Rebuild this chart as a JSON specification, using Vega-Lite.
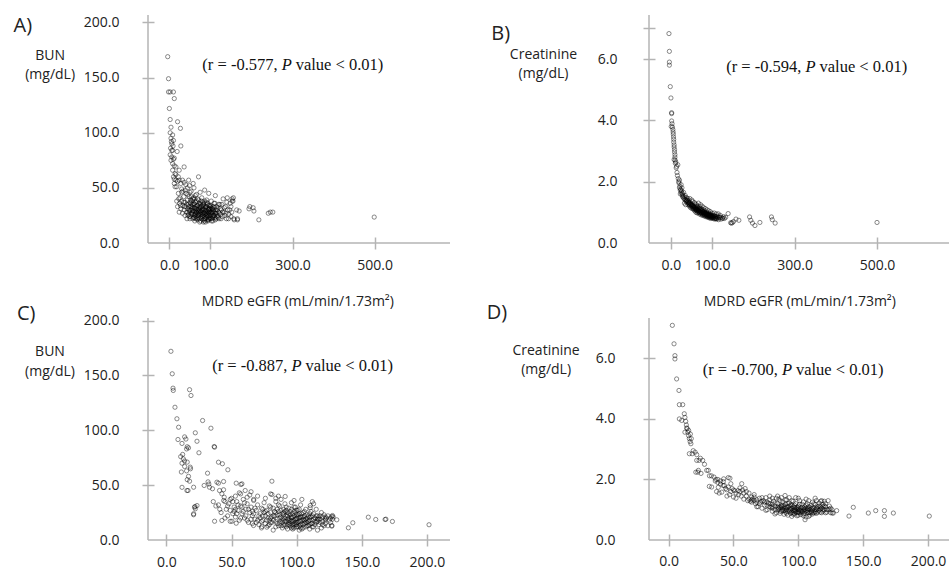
{
"$schema": "https://vega.github.io/schema/vega-lite/v6.json",
"background": "white",
"padding": {"left": 13, "top": 14, "right": 0, "bottom": 0},
"config": {
  "view": {"stroke": null},
  "font": "Open Sans",
  "axis": {"domain": false, "grid": false, "ticks": true, "tickColor": "#b4b4b4", "tickWidth": 1.5, "tickSize": 12, "offset": -6,
    "labelFont": "Open Sans", "labelFontSize": 14, "labelColor": "#222", "labelFlush": false, "labelOverlap": false, "labelBound": false,
    "titleFont": "Open Sans", "titleFontSize": 14, "titleFontWeight": "normal", "titleColor": "#222"},
  "point": {"shape": "circle", "filled": false, "size": 18, "strokeWidth": 1, "stroke": "#000", "strokeOpacity": 0.65},
  "rule": {"color": "#b4b4b4", "strokeWidth": 1.5},
  "text": {"font": "Liberation Serif", "fontSize": 16.5, "color": "#111", "baseline": "middle"}
},
"datasets": {
"A": [
{"x":-4,"y":169},{"x":-2,"y":149},{"x":-2,"y":137},{"x":2,"y":137},{"x":10,"y":137},{"x":12,"y":131},{"x":0,"y":122},{"x":2,"y":112},{"x":20,"y":110},{"x":4,"y":105},{"x":27,"y":104},{"x":2,"y":100},{"x":8,"y":98},{"x":4,"y":95},{"x":10,"y":93},{"x":6,"y":90},{"x":9,"y":88},{"x":28,"y":88},{"x":8,"y":84},{"x":19,"y":83},{"x":2,"y":80},{"x":6,"y":78},{"x":10,"y":76},{"x":4,"y":75},{"x":8,"y":72},{"x":12,"y":70},{"x":16,"y":69},{"x":36,"y":69},{"x":8,"y":66},{"x":24,"y":66},{"x":14,"y":63},{"x":10,"y":60},{"x":12,"y":58},{"x":16,"y":57},{"x":20,"y":56},{"x":24,"y":57},{"x":28,"y":54},{"x":47,"y":57},{"x":71,"y":60},{"x":36,"y":55},{"x":40,"y":53},{"x":12,"y":54},{"x":14,"y":51},{"x":18,"y":51},{"x":30,"y":49},{"x":6,"y":84},{"x":5,"y":92},{"x":12,"y":77},{"x":3,"y":86},{"x":16,"y":62},{"x":22,"y":60},
{"x":18,"y":38},{"x":20,"y":33},{"x":22,"y":45},{"x":24,"y":28},{"x":25,"y":36},{"x":26,"y":41},{"x":28,"y":31},{"x":30,"y":46},{"x":30,"y":38},{"x":32,"y":27},{"x":33,"y":34},{"x":35,"y":42},{"x":36,"y":30},{"x":38,"y":25},{"x":38,"y":37},{"x":40,"y":33},{"x":41,"y":45},{"x":42,"y":28},{"x":43,"y":22},{"x":44,"y":39},{"x":45,"y":31},{"x":46,"y":35},{"x":47,"y":26},{"x":48,"y":42},{"x":49,"y":29},{"x":50,"y":37},{"x":51,"y":24},{"x":52,"y":33},{"x":53,"y":47},{"x":54,"y":27},{"x":55,"y":38},{"x":56,"y":30},{"x":57,"y":22},{"x":58,"y":35},{"x":59,"y":41},{"x":60,"y":26},{"x":61,"y":32},{"x":62,"y":20},{"x":63,"y":29},{"x":64,"y":37},{"x":65,"y":24},{"x":66,"y":44},{"x":67,"y":31},{"x":68,"y":27},{"x":69,"y":21},{"x":70,"y":34},{"x":71,"y":39},{"x":72,"y":25},{"x":73,"y":30},{"x":74,"y":19},{"x":75,"y":36},{"x":76,"y":28},{"x":77,"y":23},{"x":78,"y":33},{"x":79,"y":41},{"x":80,"y":26},{"x":81,"y":30},{"x":82,"y":21},{"x":83,"y":35},{"x":84,"y":28},{"x":85,"y":24},{"x":86,"y":38},{"x":87,"y":31},{"x":88,"y":19},{"x":89,"y":27},{"x":90,"y":33},{"x":91,"y":23},{"x":92,"y":29},{"x":93,"y":36},{"x":94,"y":25},{"x":95,"y":21},{"x":96,"y":31},{"x":97,"y":27},{"x":98,"y":34},{"x":99,"y":22},{"x":100,"y":29},{"x":101,"y":25},{"x":102,"y":38},{"x":103,"y":20},{"x":104,"y":31},{"x":105,"y":27},{"x":106,"y":23},{"x":107,"y":33},{"x":108,"y":29},{"x":110,"y":25},{"x":111,"y":36},{"x":112,"y":21},{"x":113,"y":30},{"x":115,"y":27},{"x":116,"y":24},{"x":118,"y":32},{"x":120,"y":28},{"x":121,"y":22},{"x":123,"y":35},{"x":125,"y":26},{"x":127,"y":30},{"x":129,"y":24},{"x":131,"y":40},{"x":133,"y":28},{"x":135,"y":25},{"x":137,"y":33},{"x":139,"y":22},{"x":142,"y":30},{"x":145,"y":26},{"x":148,"y":36},{"x":150,"y":24},{"x":152,"y":28},{"x":155,"y":38},{"x":156,"y":41},{"x":157,"y":22},{"x":158,"y":21},{"x":164,"y":30},{"x":170,"y":29},{"x":112,"y":43},{"x":96,"y":45},{"x":86,"y":48},{"x":75,"y":46},{"x":60,"y":50},{"x":150,"y":33},{"x":140,"y":37},{"x":128,"y":35},{"x":44,"y":50},
{"x":42,"y":35},{"x":45,"y":25},{"x":48,"y":30},{"x":50,"y":22},{"x":52,"y":39},{"x":54,"y":31},{"x":56,"y":26},{"x":58,"y":29},{"x":60,"y":36},{"x":62,"y":31},{"x":64,"y":22},{"x":66,"y":28},{"x":68,"y":34},{"x":70,"y":23},{"x":72,"y":31},{"x":74,"y":27},{"x":76,"y":35},{"x":78,"y":24},{"x":80,"y":31},{"x":82,"y":27},{"x":84,"y":33},{"x":86,"y":22},{"x":88,"y":29},{"x":90,"y":25},{"x":92,"y":35},{"x":94,"y":20},{"x":96,"y":27},{"x":98,"y":23},{"x":100,"y":33},{"x":102,"y":27},{"x":104,"y":22},{"x":106,"y":30},{"x":108,"y":25},{"x":110,"y":32},{"x":112,"y":27},{"x":114,"y":22},{"x":116,"y":30},{"x":118,"y":25},{"x":120,"y":35},{"x":122,"y":27},{"x":124,"y":31},{"x":126,"y":22},{"x":130,"y":28},{"x":134,"y":32},{"x":138,"y":27},{"x":144,"y":22},{"x":147,"y":30},{"x":65,"y":33},{"x":75,"y":29},{"x":85,"y":30},{"x":95,"y":28},{"x":105,"y":24},{"x":115,"y":33},{"x":55,"y":33},{"x":45,"y":44},{"x":50,"y":46},{"x":57,"y":40},{"x":63,"y":43},{"x":69,"y":40},{"x":81,"y":37},{"x":91,"y":39},{"x":101,"y":34},{"x":83,"y":19},{"x":93,"y":21},{"x":79,"y":22},{"x":71,"y":26},{"x":61,"y":23},{"x":87,"y":26},{"x":97,"y":31},{"x":109,"y":36},{"x":119,"y":23},{"x":35,"y":37},{"x":37,"y":33},{"x":27,"y":34},{"x":23,"y":40},{"x":33,"y":47},{"x":39,"y":48},{"x":49,"y":52},{"x":58,"y":54},{"x":32,"y":57},
{"x":45,"y":28},{"x":47,"y":33},{"x":49,"y":24},{"x":51,"y":30},{"x":53,"y":26},{"x":55,"y":35},{"x":57,"y":28},{"x":59,"y":23},{"x":61,"y":35},{"x":63,"y":26},{"x":65,"y":31},{"x":67,"y":22},{"x":69,"y":30},{"x":71,"y":28},{"x":73,"y":22},{"x":75,"y":32},{"x":77,"y":26},{"x":79,"y":29},{"x":81,"y":24},{"x":83,"y":31},{"x":85,"y":27},{"x":87,"y":22},{"x":89,"y":32},{"x":91,"y":27},{"x":93,"y":24},{"x":95,"y":30},{"x":97,"y":25},{"x":99,"y":31},{"x":101,"y":22},{"x":103,"y":28},{"x":105,"y":31},{"x":107,"y":25},{"x":109,"y":28},{"x":111,"y":23},{"x":113,"y":27},{"x":72,"y":36},{"x":78,"y":38},{"x":84,"y":36},{"x":90,"y":37},{"x":96,"y":34},{"x":102,"y":32},{"x":66,"y":38},{"x":60,"y":40},{"x":54,"y":42},{"x":76,"y":20},{"x":86,"y":20},{"x":96,"y":22},{"x":106,"y":20},{"x":80,"y":34},{"x":70,"y":29},{"x":92,"y":26},{"x":98,"y":29},{"x":88,"y":33},{"x":82,"y":25},{"x":74,"y":33},{"x":64,"y":27},{"x":58,"y":32},{"x":52,"y":36},{"x":62,"y":25},{"x":68,"y":25},
{"x":141,"y":41},{"x":153,"y":40},{"x":153,"y":38},{"x":166,"y":22},{"x":166,"y":21},{"x":194,"y":31},{"x":196,"y":33},{"x":204,"y":32},{"x":206,"y":29},{"x":218,"y":21},{"x":241,"y":27},{"x":246,"y":28},{"x":252,"y":28},{"x":499,"y":23.5}
],
"B": [
{"x":-4.5,"y":6.83},{"x":-3.5,"y":6.25},{"x":-3.5,"y":5.9},{"x":-3.5,"y":5.8},{"x":-1.3,"y":5.1},{"x":0.3,"y":4.73},{"x":1.9,"y":4.25},{"x":2,"y":4.22},
{"x":2,"y":3.98},{"x":3,"y":3.89},{"x":1,"y":3.8},{"x":4,"y":3.78},{"x":5,"y":3.7},{"x":5.6,"y":3.62},{"x":6,"y":3.55},{"x":6.5,"y":3.46},{"x":7,"y":3.38},{"x":7,"y":3.29},{"x":8,"y":3.2},{"x":8,"y":3.13},{"x":9,"y":3.05},{"x":9,"y":2.97},{"x":10,"y":2.88},{"x":10,"y":2.8},{"x":10.5,"y":2.7},{"x":8,"y":2.72},{"x":12,"y":2.64},{"x":11,"y":2.6},
{"x":13,"y":2.45},{"x":15,"y":2.3},{"x":16,"y":2.2},{"x":18,"y":2.1},{"x":14,"y":2.5},{"x":17,"y":2.55},
{"x":20,"y":1.95},{"x":22,"y":1.85},{"x":24,"y":1.75},{"x":21,"y":2.05},{"x":26,"y":1.7},{"x":28,"y":1.62},{"x":25,"y":1.9},{"x":29,"y":1.55},{"x":23,"y":1.6},{"x":27,"y":1.8},
{"x":30,"y":1.5},{"x":32,"y":1.45},{"x":34,"y":1.42},{"x":31,"y":1.65},{"x":35,"y":1.55},{"x":37,"y":1.35},{"x":38,"y":1.48},{"x":33,"y":1.3},{"x":36,"y":1.25},{"x":39,"y":1.4},
{"x":40,"y":1.32},{"x":42,"y":1.25},{"x":44,"y":1.38},{"x":45,"y":1.2},{"x":47,"y":1.3},{"x":48,"y":1.15},{"x":50,"y":1.25},{"x":52,"y":1.12},{"x":53,"y":1.35},{"x":55,"y":1.1},{"x":56,"y":1.2},{"x":58,"y":1.05},{"x":59,"y":1.28},{"x":41,"y":1.45},{"x":46,"y":1.45},{"x":51,"y":1.4},{"x":57,"y":1.32},
{"x":60,"y":1.15},{"x":61,"y":1.0},{"x":62,"y":1.25},{"x":63,"y":1.1},{"x":64,"y":0.98},{"x":65,"y":1.2},{"x":66,"y":1.05},{"x":67,"y":1.3},{"x":68,"y":1.12},{"x":69,"y":0.95},{"x":70,"y":1.18},{"x":71,"y":1.02},{"x":72,"y":1.25},{"x":73,"y":0.92},{"x":74,"y":1.1},{"x":75,"y":1.0},{"x":76,"y":1.2},{"x":77,"y":0.9},{"x":78,"y":1.08},{"x":79,"y":0.98},{"x":80,"y":1.15},{"x":81,"y":0.88},{"x":82,"y":1.05},{"x":83,"y":0.95},{"x":84,"y":1.12},{"x":85,"y":0.86},{"x":86,"y":1.0},{"x":87,"y":0.92},{"x":88,"y":1.08},{"x":89,"y":0.84},{"x":90,"y":0.98},{"x":91,"y":0.9},{"x":92,"y":1.05},{"x":93,"y":0.82},{"x":94,"y":0.95},{"x":95,"y":0.88},{"x":96,"y":1.02},{"x":97,"y":0.8},{"x":98,"y":0.92},{"x":99,"y":0.85},{"x":100,"y":0.97},
{"x":102,"y":0.82},{"x":104,"y":0.9},{"x":106,"y":0.78},{"x":108,"y":0.86},{"x":110,"y":0.95},{"x":112,"y":0.8},{"x":114,"y":0.88},{"x":116,"y":0.76},{"x":118,"y":0.84},{"x":120,"y":0.9},{"x":122,"y":0.78},{"x":125,"y":0.82},{"x":128,"y":0.86},{"x":130,"y":0.8},{"x":133,"y":0.84},{"x":105,"y":0.98},{"x":115,"y":0.95},
{"x":34,"y":1.5},{"x":36,"y":1.4},{"x":38,"y":1.38},{"x":40,"y":1.4},{"x":43,"y":1.3},{"x":45,"y":1.32},{"x":47,"y":1.22},{"x":49,"y":1.25},{"x":51,"y":1.18},{"x":53,"y":1.22},{"x":55,"y":1.15},{"x":57,"y":1.18},{"x":59,"y":1.1},{"x":61,"y":1.12},{"x":63,"y":1.05},{"x":65,"y":1.08},{"x":67,"y":1.02},{"x":69,"y":1.05},{"x":71,"y":0.98},{"x":73,"y":1.02},{"x":75,"y":0.95},{"x":77,"y":1.0},{"x":79,"y":0.93},{"x":81,"y":0.98},{"x":83,"y":0.9},{"x":85,"y":0.95},{"x":87,"y":0.88},{"x":89,"y":0.93},{"x":91,"y":0.86},{"x":93,"y":0.9},{"x":95,"y":0.84},{"x":97,"y":0.88},{"x":99,"y":0.82},{"x":101,"y":0.86},{"x":103,"y":0.8},{"x":107,"y":0.82},{"x":109,"y":0.8},{"x":111,"y":0.78},{"x":62,"y":1.18},{"x":66,"y":1.12},{"x":70,"y":1.1},{"x":74,"y":1.05},{"x":78,"y":1.02},{"x":82,"y":0.98},{"x":86,"y":0.95},{"x":90,"y":0.92},{"x":94,"y":0.9},{"x":98,"y":0.88},{"x":19,"y":2.0},{"x":21,"y":1.8},{"x":23,"y":1.72},{"x":25,"y":1.65},{"x":27,"y":1.58},{"x":29,"y":1.5},
{"x":62,"y":1.08},{"x":64,"y":1.15},{"x":66,"y":1.0},{"x":68,"y":1.06},{"x":70,"y":1.0},{"x":72,"y":1.12},{"x":74,"y":0.98},{"x":76,"y":1.05},{"x":78,"y":0.95},{"x":80,"y":1.02},{"x":82,"y":0.92},{"x":84,"y":0.98},{"x":86,"y":0.9},{"x":88,"y":0.96},{"x":90,"y":0.88},{"x":92,"y":0.94},{"x":94,"y":0.86},{"x":96,"y":0.92},{"x":98,"y":0.84},{"x":100,"y":0.9},{"x":102,"y":0.88},{"x":104,"y":0.84},{"x":106,"y":0.88},{"x":108,"y":0.8},{"x":110,"y":0.86},{"x":113,"y":0.84},{"x":117,"y":0.82},{"x":121,"y":0.84},{"x":126,"y":0.8},{"x":42,"y":1.35},{"x":44,"y":1.28},{"x":46,"y":1.25},{"x":48,"y":1.28},{"x":50,"y":1.2},{"x":52,"y":1.25},{"x":54,"y":1.18},{"x":56,"y":1.12},{"x":58,"y":1.15},{"x":60,"y":1.08},
{"x":139,"y":0.96},{"x":145,"y":0.66},{"x":147,"y":0.65},{"x":149,"y":0.66},{"x":152,"y":0.7},{"x":158,"y":0.78},{"x":165,"y":0.74},
{"x":191,"y":0.85},{"x":194,"y":0.74},{"x":198,"y":0.65},{"x":204,"y":0.57},{"x":216,"y":0.67},{"x":244,"y":0.85},{"x":246,"y":0.76},{"x":253,"y":0.65},{"x":500,"y":0.67}
],
"C": [
{"x":3.5,"y":172},{"x":4.5,"y":151.5},{"x":5.1,"y":138.4},{"x":5.3,"y":136.3},{"x":6.6,"y":121},{"x":8.1,"y":110.5},{"x":9.4,"y":102.8},{"x":8.9,"y":91.6},
{"x":12,"y":88},{"x":14,"y":94},{"x":15,"y":92},{"x":16,"y":85},{"x":15.5,"y":83},{"x":17,"y":84},{"x":12.5,"y":78},{"x":11,"y":76},{"x":13,"y":74},{"x":14,"y":72},{"x":12,"y":70},{"x":16,"y":71},{"x":14,"y":67},{"x":11.5,"y":62},{"x":15.5,"y":63},{"x":17,"y":58},{"x":16,"y":55},{"x":12,"y":48},
{"x":17.8,"y":137},{"x":18.9,"y":131.7},{"x":27.8,"y":108.9},{"x":34.2,"y":101.9},{"x":36.7,"y":85.2},{"x":22.2,"y":97.7},{"x":23.5,"y":90},{"x":25,"y":79.5},{"x":40,"y":70.9},{"x":43,"y":69.5},{"x":47.2,"y":64},{"x":31.6,"y":60.9},{"x":38.8,"y":52.7},{"x":17.8,"y":53.6},{"x":20.9,"y":48.1},{"x":29,"y":49.7},{"x":33.1,"y":48.1},{"x":16.6,"y":45.1},{"x":21.6,"y":29.9},{"x":22.2,"y":28.4},{"x":20.9,"y":23.9},{"x":40,"y":51.8},{"x":43.9,"y":45.8},{"x":53.6,"y":51.8},{"x":57.2,"y":50.6},{"x":60.5,"y":45.1},{"x":81,"y":53.6},{"x":91.2,"y":39.7},{"x":80,"y":42},{"x":84,"y":38},
{"x":18.3,"y":66.4},{"x":18.5,"y":64.9},{"x":15.8,"y":45.1},{"x":22,"y":30.5},{"x":23.5,"y":31.4},{"x":20.9,"y":23},{"x":37,"y":84.6},{"x":43.9,"y":53.3},{"x":58,"y":51.2},{"x":81,"y":41.5},{"x":32,"y":53},{"x":32.6,"y":51},{"x":35.4,"y":46.7},{"x":40.8,"y":45.1},{"x":42.6,"y":42.1},{"x":44.4,"y":39},{"x":36,"y":35},{"x":38,"y":31},{"x":41,"y":28},{"x":49,"y":37},{"x":53,"y":40},{"x":57,"y":42},{"x":62,"y":39},{"x":65,"y":44},{"x":67,"y":37},{"x":37,"y":17.1},{"x":42.6,"y":17.8},{"x":50.3,"y":17.1},{"x":53.6,"y":15.3},{"x":66.9,"y":13.2},{"x":73.3,"y":12.3},{"x":77.1,"y":11.7},{"x":110.4,"y":31.4},{"x":110.4,"y":29.3},{"x":121.9,"y":19.3},{"x":127,"y":13.2},{"x":127.5,"y":22.3},{"x":130.8,"y":18.4},
{"x":155,"y":20.8},{"x":160.7,"y":18.7},{"x":167.9,"y":18.7},{"x":168.5,"y":19},{"x":173.5,"y":16.9},{"x":201.6,"y":13.9},{"x":139.7,"y":11.1},{"x":143.1,"y":15.7},{"x":127,"y":21.4},{"x":127,"y":12.6},
{"x":40,"y":32},{"x":42,"y":25},{"x":44,"y":36},{"x":45,"y":20},{"x":46,"y":28},{"x":48,"y":33},{"x":49,"y":17},{"x":50,"y":38},{"x":51,"y":24},{"x":52,"y":30},{"x":53,"y":21},{"x":54,"y":35},{"x":55,"y":27},{"x":56,"y":18},{"x":57,"y":31},{"x":58,"y":24},{"x":59,"y":37},{"x":60,"y":20},{"x":61,"y":28},{"x":62,"y":33},{"x":63,"y":16},{"x":64,"y":25},{"x":65,"y":30},{"x":66,"y":22},{"x":67,"y":36},{"x":68,"y":19},{"x":69,"y":27},{"x":70,"y":32},{"x":71,"y":14},{"x":72,"y":24},{"x":73,"y":29},{"x":74,"y":18},{"x":75,"y":34},{"x":76,"y":22},{"x":77,"y":27},{"x":78,"y":13},{"x":79,"y":31},{"x":80,"y":20},{"x":80,"y":25},{"x":81,"y":16},{"x":82,"y":29},{"x":83,"y":22},{"x":84,"y":35},{"x":84,"y":12},{"x":85,"y":19},{"x":86,"y":26},{"x":87,"y":15},{"x":87,"y":31},{"x":88,"y":21},{"x":89,"y":24},{"x":89,"y":11},{"x":90,"y":18},{"x":90,"y":28},{"x":91,"y":14},{"x":91,"y":33},{"x":92,"y":22},{"x":92,"y":17},{"x":93,"y":25},{"x":93,"y":10},{"x":94,"y":20},{"x":94,"y":29},{"x":95,"y":13},{"x":95,"y":23},{"x":96,"y":17},{"x":96,"y":34},{"x":97,"y":21},{"x":97,"y":10},{"x":98,"y":26},{"x":98,"y":15},{"x":99,"y":19},{"x":99,"y":30},{"x":100,"y":12},{"x":100,"y":23},{"x":101,"y":16},{"x":101,"y":27},{"x":102,"y":20},{"x":102,"y":9},{"x":103,"y":14},{"x":103,"y":32},{"x":104,"y":18},{"x":104,"y":24},{"x":105,"y":11},{"x":105,"y":21},{"x":106,"y":15},{"x":107,"y":28},{"x":107,"y":19},{"x":108,"y":13},{"x":108,"y":23},{"x":109,"y":17},{"x":110,"y":21},{"x":110,"y":10},{"x":111,"y":26},{"x":111,"y":15},{"x":112,"y":18},{"x":113,"y":12},{"x":113,"y":24},{"x":114,"y":20},{"x":115,"y":16},{"x":116,"y":22},{"x":117,"y":14},{"x":118,"y":19},{"x":119,"y":11},{"x":120,"y":17},{"x":121,"y":23},{"x":122,"y":15},{"x":123,"y":20},{"x":124,"y":13},{"x":125,"y":18},{"x":126,"y":16},{"x":128,"y":21},{"x":76,"y":38},{"x":86,"y":40},{"x":98,"y":36},{"x":70,"y":40},{"x":112,"y":35},{"x":113,"y":33},{"x":64,"y":41},{"x":56,"y":43},{"x":104,"y":37},{"x":52,"y":26},{"x":47,"y":22},{"x":60,"y":34},{"x":66,"y":15},{"x":73,"y":11},{"x":82,"y":9},{"x":116,"y":9},{"x":88,"y":37},{"x":79,"y":18},{"x":94,"y":16},{"x":100,"y":20},{"x":97,"y":14},{"x":91,"y":20},{"x":85,"y":23},
{"x":72,"y":20},{"x":74,"y":28},{"x":76,"y":15},{"x":78,"y":24},{"x":80,"y":30},{"x":82,"y":18},{"x":84,"y":25},{"x":86,"y":13},{"x":86,"y":32},{"x":88,"y":17},{"x":88,"y":27},{"x":90,"y":13},{"x":90,"y":23},{"x":92,"y":30},{"x":92,"y":12},{"x":94,"y":24},{"x":94,"y":14},{"x":96,"y":21},{"x":96,"y":11},{"x":98,"y":18},{"x":98,"y":30},{"x":100,"y":16},{"x":100,"y":27},{"x":102,"y":24},{"x":102,"y":13},{"x":104,"y":21},{"x":104,"y":10},{"x":106,"y":18},{"x":106,"y":26},{"x":108,"y":16},{"x":108,"y":20},{"x":110,"y":14},{"x":110,"y":24},{"x":112,"y":22},{"x":112,"y":12},{"x":114,"y":17},{"x":116,"y":19},{"x":118,"y":16},{"x":120,"y":21},{"x":122,"y":18},{"x":95,"y":18},{"x":97,"y":24},{"x":99,"y":14},{"x":101,"y":21},{"x":103,"y":17},{"x":105,"y":25},{"x":107,"y":12},{"x":109,"y":22},{"x":93,"y":19},{"x":91,"y":26},{"x":89,"y":16},{"x":87,"y":20},{"x":85,"y":15},{"x":83,"y":26},{"x":81,"y":21},{"x":79,"y":14},{"x":77,"y":18},{"x":75,"y":25},{"x":73,"y":17},{"x":71,"y":22},{"x":69,"y":16},{"x":67,"y":24},{"x":65,"y":19},{"x":63,"y":28},{"x":61,"y":22},{"x":59,"y":26},{"x":57,"y":20},{"x":55,"y":32},{"x":53,"y":28},{"x":51,"y":35},{"x":49,"y":27},{"x":47,"y":31},{"x":45,"y":35},{"x":124,"y":22},{"x":126,"y":20},{"x":127.5,"y":19},{"x":119,"y":25},{"x":115,"y":28},{"x":117,"y":21},{"x":121,"y":13},
{"x":82,"y":22},{"x":84,"y":17},{"x":85,"y":28},{"x":87,"y":23},{"x":88,"y":13},{"x":89,"y":19},{"x":90,"y":25},{"x":91,"y":17},{"x":92,"y":27},{"x":93,"y":14},{"x":93,"y":22},{"x":94,"y":18},{"x":95,"y":26},{"x":95,"y":15},{"x":96,"y":20},{"x":96,"y":28},{"x":97,"y":17},{"x":97,"y":12},{"x":98,"y":22},{"x":98,"y":11},{"x":99,"y":25},{"x":99,"y":16},{"x":100,"y":14},{"x":100,"y":19},{"x":101,"y":23},{"x":101,"y":12},{"x":102,"y":17},{"x":102,"y":28},{"x":103,"y":21},{"x":103,"y":11},{"x":104,"y":15},{"x":105,"y":19},{"x":105,"y":14},{"x":106,"y":22},{"x":107,"y":16},{"x":108,"y":18},{"x":109,"y":13},{"x":110,"y":18},{"x":111,"y":21},{"x":112,"y":15},{"x":113,"y":19},{"x":114,"y":14},{"x":115,"y":22},{"x":116,"y":17},{"x":117,"y":19},{"x":118,"y":22},{"x":120,"y":14},{"x":122,"y":21},{"x":78,"y":20},{"x":76,"y":26},{"x":80,"y":16},{"x":74,"y":22},{"x":70,"y":18},{"x":68,"y":29},{"x":66,"y":26},{"x":62,"y":18},{"x":58,"y":30},{"x":54,"y":24}
],
"D": [
{"x":2.9,"y":7.09},{"x":4.2,"y":6.48},{"x":4.9,"y":6.09},{"x":4.9,"y":5.98},{"x":6.2,"y":5.32},{"x":8,"y":4.94},{"x":8.3,"y":4.47},{"x":10.9,"y":4.47},{"x":8.3,"y":4.0},{"x":10.1,"y":3.95},
{"x":12.1,"y":4.17},{"x":12.6,"y":4.05},{"x":13.2,"y":3.92},{"x":13.7,"y":3.8},{"x":14.3,"y":3.68},{"x":14.8,"y":3.56},{"x":15.4,"y":3.45},{"x":16,"y":3.35},{"x":16.6,"y":3.25},{"x":17.2,"y":3.18},{"x":12.6,"y":3.56},{"x":14,"y":3.7},{"x":15.5,"y":3.62},{"x":16.8,"y":3.5},{"x":17.5,"y":3.35},
{"x":16,"y":2.85},{"x":18.2,"y":2.85},{"x":20.5,"y":2.9},{"x":21.7,"y":2.82},{"x":19,"y":2.95},{"x":21.7,"y":2.63},{"x":23.5,"y":2.63},{"x":26.3,"y":2.63},{"x":24.5,"y":2.7},{"x":21,"y":2.24},{"x":22.5,"y":2.24},{"x":25,"y":2.2},{"x":23,"y":2.3},{"x":27.7,"y":2.5},{"x":29.4,"y":2.3},{"x":30.6,"y":2.3},
{"x":31.5,"y":2.12},{"x":33,"y":2.12},{"x":35,"y":2.08},{"x":36.5,"y":2.0},{"x":38,"y":2.0},{"x":40,"y":1.95},{"x":42.5,"y":2.02},{"x":46,"y":2.06},{"x":47.3,"y":2.04},{"x":31.4,"y":1.77},{"x":33.2,"y":1.75},{"x":38.3,"y":1.74},{"x":42.2,"y":1.93},{"x":44.8,"y":1.66},{"x":56.4,"y":1.86},{"x":37,"y":1.6},{"x":39,"y":1.55},{"x":41,"y":1.58},{"x":51,"y":1.63},{"x":53.5,"y":1.63},{"x":49,"y":1.7},{"x":45,"y":1.45},{"x":47,"y":1.5},{"x":50,"y":1.42},{"x":52,"y":1.38},{"x":54,"y":1.5},{"x":56,"y":1.45},{"x":58,"y":1.35},{"x":60,"y":1.6},{"x":62,"y":1.55},{"x":64,"y":1.42},{"x":66,"y":1.5},{"x":43,"y":1.8},{"x":48,"y":1.86},{"x":55,"y":1.72},{"x":57,"y":1.65},{"x":59,"y":1.7},{"x":61,"y":1.3},{"x":63,"y":1.28},{"x":65,"y":1.35},
{"x":66,"y":1.42},{"x":67,"y":1.2},{"x":68,"y":1.33},{"x":69,"y":1.1},{"x":70,"y":1.38},{"x":71,"y":1.25},{"x":72,"y":1.05},{"x":73,"y":1.3},{"x":74,"y":1.15},{"x":75,"y":1.4},{"x":76,"y":1.0},{"x":77,"y":1.22},{"x":78,"y":1.32},{"x":79,"y":1.08},{"x":80,"y":1.18},{"x":80,"y":0.95},{"x":81,"y":1.28},{"x":82,"y":1.12},{"x":83,"y":1.38},{"x":83,"y":0.9},{"x":84,"y":1.2},{"x":85,"y":1.02},{"x":86,"y":1.3},{"x":86,"y":0.88},{"x":87,"y":1.14},{"x":88,"y":0.97},{"x":88,"y":1.25},{"x":89,"y":1.06},{"x":89,"y":0.85},{"x":90,"y":1.18},{"x":90,"y":0.92},{"x":91,"y":1.33},{"x":91,"y":1.0},{"x":92,"y":1.1},{"x":92,"y":0.82},{"x":93,"y":1.22},{"x":93,"y":0.95},{"x":94,"y":1.04},{"x":94,"y":0.88},{"x":95,"y":1.15},{"x":95,"y":0.78},{"x":96,"y":1.28},{"x":96,"y":0.98},{"x":97,"y":1.08},{"x":97,"y":0.86},{"x":98,"y":1.2},{"x":98,"y":0.93},{"x":99,"y":1.02},{"x":99,"y":0.8},{"x":100,"y":1.12},{"x":100,"y":0.9},{"x":101,"y":1.3},{"x":101,"y":0.98},{"x":102,"y":1.06},{"x":102,"y":0.84},{"x":103,"y":1.18},{"x":103,"y":0.92},{"x":104,"y":1.0},{"x":104,"y":1.26},{"x":105,"y":0.88},{"x":105,"y":1.1},{"x":106,"y":0.96},{"x":106,"y":0.76},{"x":107,"y":1.2},{"x":107,"y":1.04},{"x":108,"y":0.9},{"x":108,"y":1.3},{"x":109,"y":1.0},{"x":109,"y":0.82},{"x":110,"y":1.14},{"x":110,"y":0.94},{"x":111,"y":1.25},{"x":111,"y":1.05},{"x":112,"y":0.9},{"x":113,"y":1.18},{"x":113,"y":1.0},{"x":114,"y":1.3},{"x":114,"y":0.88},{"x":115,"y":1.1},{"x":116,"y":0.98},{"x":116,"y":1.22},{"x":117,"y":0.92},{"x":118,"y":1.05},{"x":118,"y":1.3},{"x":119,"y":0.95},{"x":120,"y":1.12},{"x":121,"y":0.9},{"x":122,"y":1.0},{"x":123,"y":1.3},{"x":124,"y":1.02},{"x":125,"y":0.9},{"x":126,"y":1.0},{"x":84,"y":1.45},{"x":78,"y":1.45},{"x":72,"y":1.4},{"x":98,"y":1.4},{"x":106,"y":1.35},{"x":62,"y":1.35},{"x":64,"y":1.25},{"x":68,"y":1.1},{"x":75,"y":0.98},{"x":82,"y":0.86},{"x":87,"y":1.4},{"x":93,"y":1.4},{"x":100,"y":1.38},{"x":113,"y":1.38},
{"x":70,"y":1.2},{"x":72,"y":1.28},{"x":74,"y":1.25},{"x":76,"y":1.15},{"x":78,"y":1.1},{"x":80,"y":1.05},{"x":82,"y":1.22},{"x":84,"y":1.0},{"x":85,"y":1.12},{"x":86,"y":1.08},{"x":87,"y":0.95},{"x":88,"y":1.15},{"x":89,"y":0.98},{"x":90,"y":1.05},{"x":91,"y":0.88},{"x":92,"y":1.2},{"x":93,"y":1.02},{"x":94,"y":1.15},{"x":95,"y":0.92},{"x":96,"y":1.1},{"x":97,"y":0.95},{"x":98,"y":1.05},{"x":99,"y":0.9},{"x":100,"y":1.0},{"x":101,"y":1.18},{"x":102,"y":0.95},{"x":103,"y":1.08},{"x":104,"y":0.86},{"x":105,"y":1.02},{"x":106,"y":1.15},{"x":107,"y":0.92},{"x":108,"y":1.1},{"x":109,"y":0.9},{"x":110,"y":1.04},{"x":111,"y":0.86},{"x":112,"y":1.2},{"x":113,"y":0.94},{"x":114,"y":1.06},{"x":115,"y":0.92},{"x":116,"y":1.12},{"x":117,"y":1.02},{"x":118,"y":0.9},{"x":119,"y":1.1},{"x":120,"y":1.0},{"x":121,"y":1.2},{"x":122,"y":0.92},{"x":124,"y":1.12},{"x":125,"y":1.05},{"x":60,"y":1.45},{"x":58,"y":1.55},{"x":55,"y":1.6},{"x":52,"y":1.55},{"x":50,"y":1.65},{"x":48,"y":1.6},{"x":46,"y":1.75},{"x":44,"y":1.7},{"x":42,"y":1.8},{"x":40,"y":1.85},{"x":38,"y":1.9},{"x":36,"y":1.95},{"x":64,"y":1.32},{"x":66,"y":1.3},{"x":68,"y":1.25},{"x":95,"y":1.3},{"x":90,"y":1.32},{"x":85,"y":1.35},{"x":80,"y":1.38},{"x":104,"y":0.8},{"x":108,"y":0.78},{"x":100,"y":0.82},{"x":96,"y":0.85},
{"x":85,"y":1.05},{"x":87,"y":1.1},{"x":89,"y":1.12},{"x":90,"y":0.98},{"x":91,"y":1.08},{"x":92,"y":0.95},{"x":93,"y":1.12},{"x":94,"y":0.98},{"x":95,"y":1.05},{"x":96,"y":0.9},{"x":97,"y":1.0},{"x":97,"y":1.15},{"x":98,"y":0.98},{"x":99,"y":1.08},{"x":100,"y":0.94},{"x":100,"y":1.06},{"x":101,"y":0.9},{"x":102,"y":1.0},{"x":103,"y":0.95},{"x":104,"y":1.06},{"x":105,"y":0.95},{"x":106,"y":1.05},{"x":107,"y":0.98},{"x":108,"y":1.02},{"x":109,"y":1.08},{"x":110,"y":0.9},{"x":111,"y":0.98},{"x":112,"y":1.06},{"x":113,"y":0.9},{"x":114,"y":1.0},{"x":115,"y":1.04},{"x":117,"y":1.1},{"x":119,"y":1.02},{"x":88,"y":1.02},{"x":86,"y":0.95},{"x":84,"y":1.08},{"x":82,"y":1.0},{"x":80,"y":1.1},{"x":78,"y":1.2},{"x":76,"y":1.25},
{"x":117.3,"y":1.28},{"x":120,"y":1.28},{"x":119,"y":1.18},{"x":121,"y":1.1},{"x":123,"y":1.0},{"x":126.2,"y":0.89},{"x":129.6,"y":0.97},{"x":127,"y":0.89},{"x":139.1,"y":0.79},{"x":142.4,"y":1.08},{"x":154,"y":0.89},{"x":159.7,"y":0.97},{"x":166.4,"y":0.97},{"x":166.4,"y":0.78},{"x":173.3,"y":0.89},{"x":201,"y":0.79},{"x":105.2,"y":0.67},{"x":89.8,"y":1.47}
]
},
"columns": 2,
"align": "none",
"bounds": "flush",
"spacing": {"row": 75, "column": 193},
"concat": [
 {"width": 302, "height": 228,
  "title": {"text": "A)", "anchor": "start", "frame": "group", "offset": 0, "baseline": "alphabetic", "dx": -134.4, "dy": 37.6, "fontSize": 20, "fontWeight": "normal", "font": "Open Sans", "color": "#222"},
  "layer": [
   {"data": {"values": [{}]}, "mark": "rule", "encoding": {"x": {"datum": -52}}},
   {"data": {"values": [{}]}, "mark": "rule", "encoding": {"y": {"datum": 0}}},
   {"data": {"name": "A"}, "mark": "point",
    "encoding": {
     "x": {"field": "x", "type": "quantitative", "scale": {"domain": [-52, 683.6], "nice": false, "zero": false},
       "axis": {"values": [0, 100, 300, 500], "format": ".1f", "labelPadding": 9, "title": "MDRD eGFR (mL/min/1.73m²)", "titleX": 149.3, "titleY": 68.3, "titleAlign": "center", "titleBaseline": "alphabetic"}},
     "y": {"field": "y", "type": "quantitative", "scale": {"domain": [0, 206.8], "nice": false, "zero": false},
       "axis": {"values": [0, 50, 100, 150, 200], "format": ".1f", "labelPadding": 23, "tickOpacity": {"condition": {"test": "datum.value === 0", "value": 0}, "value": 1},
         "title": ["BUN", "(mg/dL)"], "titleAngle": 0, "titleAlign": "center", "titleBaseline": "alphabetic", "titleX": -104.4, "titleY": 44.6, "titleLineHeight": 19}}
    }},
   {"data": {"values": [{}]}, "mark": {"type": "text", "text": "(r = -0.577,", "align": "right", "dx": -4}, "encoding": {"x": {"datum": 273.5}, "y": {"datum": 161.8}}},
   {"data": {"values": [{}]}, "mark": {"type": "text", "text": "P", "align": "left", "fontStyle": "italic"}, "encoding": {"x": {"datum": 273.5}, "y": {"datum": 161.8}}},
   {"data": {"values": [{}]}, "mark": {"type": "text", "text": "value < 0.01)", "align": "left", "dx": 14}, "encoding": {"x": {"datum": 273.5}, "y": {"datum": 161.8}}}
  ]},
 {"width": 302, "height": 228,
  "title": {"text": "B)", "anchor": "start", "frame": "group", "offset": 0, "baseline": "alphabetic", "dx": -157.7, "dy": 45.7, "fontSize": 20, "fontWeight": "normal", "font": "Open Sans", "color": "#222"},
  "layer": [
   {"data": {"values": [{}]}, "mark": "rule", "encoding": {"x": {"datum": -52.9}}},
   {"data": {"values": [{}]}, "mark": "rule", "encoding": {"y": {"datum": 0}}},
   {"data": {"name": "B"}, "mark": "point",
    "encoding": {
     "x": {"field": "x", "type": "quantitative", "scale": {"domain": [-52.9, 679.4], "nice": false, "zero": false},
       "axis": {"values": [0, 100, 300, 500], "format": ".1f", "labelPadding": 9, "title": "MDRD eGFR (mL/min/1.73m²)", "titleX": 150.3, "titleY": 68.3, "titleAlign": "center", "titleBaseline": "alphabetic"}},
     "y": {"field": "y", "type": "quantitative", "scale": {"domain": [0, 7.436], "nice": false, "zero": false},
       "axis": {"values": [0, 2, 4, 6, 7], "labelExpr": "datum.value === 7 ? '' : format(datum.value, '.1f')", "labelPadding": 26, "tickOpacity": {"condition": {"test": "datum.value === 0", "value": 0}, "value": 1},
         "title": ["Creatinine", "(mg/dL)"], "titleAngle": 0, "titleAlign": "center", "titleBaseline": "alphabetic", "titleX": -112, "titleY": 43.6, "titleLineHeight": 19}}
    }},
   {"data": {"values": [{}]}, "mark": {"type": "text", "text": "(r = -0.594,", "align": "right", "dx": -4}, "encoding": {"x": {"datum": 326.6}, "y": {"datum": 5.74}}},
   {"data": {"values": [{}]}, "mark": {"type": "text", "text": "P", "align": "left", "fontStyle": "italic"}, "encoding": {"x": {"datum": 326.6}, "y": {"datum": 5.74}}},
   {"data": {"values": [{}]}, "mark": {"type": "text", "text": "value < 0.01)", "align": "left", "dx": 14}, "encoding": {"x": {"datum": 326.6}, "y": {"datum": 5.74}}}
  ]},
 {"width": 308, "height": 222,
  "title": {"text": "C)", "anchor": "start", "frame": "group", "offset": 0, "baseline": "alphabetic", "dx": -131, "dy": 26.9, "fontSize": 20, "fontWeight": "normal", "font": "Open Sans", "color": "#222"},
  "layer": [
   {"data": {"values": [{}]}, "mark": "rule", "encoding": {"x": {"datum": -14.1}}},
   {"data": {"values": [{}]}, "mark": "rule", "encoding": {"y": {"datum": 0}, "x": {"datum": -14.1}, "x2": {"datum": 217.7}}},
   {"data": {"name": "C"}, "mark": "point",
    "encoding": {
     "x": {"field": "x", "type": "quantitative", "scale": {"domain": [-14.1, 222.3], "nice": false, "zero": false},
       "axis": {"values": [0, 50, 100, 150, 200], "format": ".1f", "labelPadding": 9, "title": null}},
     "y": {"field": "y", "type": "quantitative", "scale": {"domain": [0, 202.35], "nice": false, "zero": false},
       "axis": {"values": [0, 50, 100, 150, 200], "format": ".1f", "labelPadding": 23, "tickOpacity": {"condition": {"test": "datum.value === 0", "value": 0}, "value": 1},
         "title": ["BUN", "(mg/dL)"], "titleAngle": 0, "titleAlign": "center", "titleBaseline": "alphabetic", "titleX": -104.5, "titleY": 37.5, "titleLineHeight": 20}}
    }},
   {"data": {"values": [{}]}, "mark": {"type": "text", "text": "(r = -0.887,", "align": "right", "dx": -4}, "encoding": {"x": {"datum": 96}, "y": {"datum": 158.3}}},
   {"data": {"values": [{}]}, "mark": {"type": "text", "text": "P", "align": "left", "fontStyle": "italic"}, "encoding": {"x": {"datum": 96}, "y": {"datum": 158.3}}},
   {"data": {"values": [{}]}, "mark": {"type": "text", "text": "value < 0.01)", "align": "left", "dx": 14}, "encoding": {"x": {"datum": 96}, "y": {"datum": 158.3}}}
  ]},
 {"width": 300, "height": 222,
  "title": {"text": "D)", "anchor": "start", "frame": "group", "offset": 0, "baseline": "alphabetic", "dx": -162.3, "dy": 21.5, "fontSize": 20, "fontWeight": "normal", "font": "Open Sans", "color": "#222"},
  "layer": [
   {"data": {"values": [{}]}, "mark": "rule", "encoding": {"x": {"datum": -15.1}}},
   {"data": {"values": [{}]}, "mark": "rule", "encoding": {"y": {"datum": 0}}},
   {"data": {"name": "D"}, "mark": "point",
    "encoding": {
     "x": {"field": "x", "type": "quantitative", "scale": {"domain": [-15.1, 216.2], "nice": false, "zero": false},
       "axis": {"values": [0, 50, 100, 150, 200], "format": ".1f", "labelPadding": 8, "title": null}},
     "y": {"field": "y", "type": "quantitative", "scale": {"domain": [0, 7.333], "nice": false, "zero": false},
       "axis": {"values": [0, 2, 4, 6], "format": ".1f", "labelPadding": 28, "tickOpacity": {"condition": {"test": "datum.value === 0", "value": 0}, "value": 1},
         "title": ["Creatinine", "(mg/dL)"], "titleAngle": 0, "titleAlign": "center", "titleBaseline": "alphabetic", "titleX": -109.4, "titleY": 36.3, "titleLineHeight": 19}}
    }},
   {"data": {"values": [{}]}, "mark": {"type": "text", "text": "(r = -0.700,", "align": "right", "dx": -4}, "encoding": {"x": {"datum": 87.4}, "y": {"datum": 5.6}}},
   {"data": {"values": [{}]}, "mark": {"type": "text", "text": "P", "align": "left", "fontStyle": "italic"}, "encoding": {"x": {"datum": 87.4}, "y": {"datum": 5.6}}},
   {"data": {"values": [{}]}, "mark": {"type": "text", "text": "value < 0.01)", "align": "left", "dx": 14}, "encoding": {"x": {"datum": 87.4}, "y": {"datum": 5.6}}}
  ]}
]
}
